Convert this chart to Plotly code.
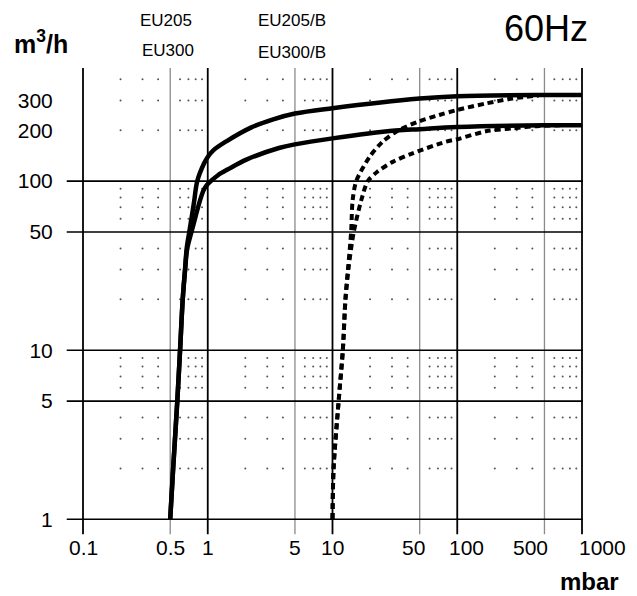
import math
import plotly.graph_objects as go

# ---------------- data ----------------
eu300_x = [0.5, 0.528, 0.57, 0.6, 0.63, 0.658, 0.678, 0.711, 0.744, 0.78, 0.824, 0.933, 1.0, 1.108, 1.41, 2.24, 3.35, 5, 10, 50, 100, 500, 1000]
eu300_y = [1, 2, 5, 10, 20, 30, 40, 50, 61.5, 77, 100, 127, 139, 152, 172, 208, 232, 251, 270, 308, 318, 323, 323]

eu205_x = [0.5, 0.528, 0.57, 0.6, 0.63, 0.658, 0.685, 0.74, 0.80, 0.867, 0.93, 1.0, 1.2, 1.5, 2.04, 3.72, 5, 10, 32, 50, 100, 500, 1000]
eu205_y = [1, 2, 5, 10, 20, 30, 40, 50, 62, 77, 89, 96, 108, 119, 134, 157, 165, 179, 199, 203, 209, 214, 214]

eu300b_x = [10, 10.2, 11.2, 12.1, 12.7, 13.3, 14.1, 14.5, 15.5, 19.8, 25.2, 32.4, 48, 71.8, 99, 170, 277, 450]
eu300b_y = [1, 2, 5, 10, 20, 30, 50, 77, 100, 139, 171, 196, 224, 246, 263, 288, 308, 321]

eu205b_x = [10, 10.2, 11.2, 12.1, 12.7, 13.4, 14.8, 17, 19.2, 23, 30.4, 43.8, 81, 100, 170, 277, 453, 700]
eu205b_y = [1, 2, 5, 10, 20, 30, 50, 77, 100, 114, 130, 146, 171, 177, 197, 205, 212, 214]

x_ticks = [0.1, 0.5, 1, 5, 10, 50, 100, 500, 1000]
x_tick_text = ["0.1", "0.5", "1", "5", "10", "50", "100", "500", "1000"]
x_tick_shift = [0, 0, 0, 0, 0, -6, 9, -14, 20]
y_ticks = [1, 5, 10, 50, 100, 200, 300]
y_tick_text = ["1", "5", "10", "50", "100", "200", "300"]

x_decades = [0.1, 1, 10, 100, 1000]
x_halves = [0.5, 5, 50, 500]
y_lines = [1, 5, 10, 50, 100]
minor_mult = [2, 3, 4, 6, 7, 8, 9]
x_minor = [m * d for d in [0.1, 1, 10, 100] for m in minor_mult]
y_minor = [m * d for d in [1, 10, 100] for m in minor_mult if m * d < 460]

FONT = "Liberation Sans, Arial, sans-serif"

fig = go.Figure()

# dotted minor grid (dots at the minor intersections)
dot_x = [xx for xx in x_minor for yy in y_minor]
dot_y = [yy for xx in x_minor for yy in y_minor]
fig.add_trace(go.Scatter(x=dot_x, y=dot_y, mode="markers",
                         marker=dict(size=2, color="#555555"),
                         hoverinfo="skip", showlegend=False))

line_solid = dict(color="black", width=4.5)
line_dash = dict(color="black", width=4, dash="6px,4px")

fig.add_trace(go.Scatter(x=eu205_x, y=eu205_y, mode="lines", name="EU205",
                         line=dict(**line_solid, shape="spline", smoothing=1.0)))
fig.add_trace(go.Scatter(x=eu300_x, y=eu300_y, mode="lines", name="EU300",
                         line=dict(**line_solid, shape="spline", smoothing=1.0)))
fig.add_trace(go.Scatter(x=eu205b_x, y=eu205b_y, mode="lines", name="EU205/B",
                         line=dict(**line_dash, shape="spline", smoothing=0.8)))
fig.add_trace(go.Scatter(x=eu300b_x, y=eu300b_y, mode="lines", name="EU300/B",
                         line=dict(**line_dash, shape="spline", smoothing=0.8)))

# grid lines as shapes
shapes = []
for v in x_halves:
    shapes.append(dict(type="line", xref="x", yref="paper", x0=v, x1=v, y0=-0.029, y1=1,
                       line=dict(color="#8a8a8a", width=1.3), layer="below"))
for v in x_decades:
    shapes.append(dict(type="line", xref="x", yref="paper", x0=v, x1=v, y0=-0.029, y1=1,
                       line=dict(color="black", width=1.8), layer="below"))
for v in y_lines:
    shapes.append(dict(type="line", xref="paper", yref="y", x0=-0.0305, x1=1, y0=v, y1=v,
                       line=dict(color="black", width=1.6), layer="below"))

annotations = []
for v, t, s in zip(x_ticks, x_tick_text, x_tick_shift):
    annotations.append(dict(x=math.log10(v), y=0, xref="x", yref="paper", text=t,
                            showarrow=False, xanchor="center", yanchor="top",
                            yshift=-13, xshift=s, font=dict(family=FONT, size=21, color="black")))

annotations += [
    dict(x=-0.082, y=1.058, xref="paper", yref="paper", text="<b>m<sup>3</sup>/h</b>",
         showarrow=False, xanchor="center", yanchor="middle",
         font=dict(family=FONT, size=25, color="black")),
    dict(x=0.168, y=1.104, xref="paper", yref="paper", text="EU205",
         showarrow=False, xanchor="center", yanchor="middle",
         font=dict(family=FONT, size=17, color="black")),
    dict(x=0.172, y=1.038, xref="paper", yref="paper", text="EU300",
         showarrow=False, xanchor="center", yanchor="middle",
         font=dict(family=FONT, size=17, color="black")),
    dict(x=0.42, y=1.104, xref="paper", yref="paper", text="EU205/B",
         showarrow=False, xanchor="center", yanchor="middle",
         font=dict(family=FONT, size=17, color="black")),
    dict(x=0.42, y=1.034, xref="paper", yref="paper", text="EU300/B",
         showarrow=False, xanchor="center", yanchor="middle",
         font=dict(family=FONT, size=17, color="black")),
    dict(x=0.926, y=1.088, xref="paper", yref="paper", text="60Hz",
         showarrow=False, xanchor="center", yanchor="middle",
         font=dict(family=FONT, size=36, color="black")),
    dict(x=1.012, y=-0.133, xref="paper", yref="paper", text="<b>mbar</b>",
         showarrow=False, xanchor="center", yanchor="middle",
         font=dict(family=FONT, size=24, color="black")),
]

fig.update_layout(
    width=637, height=596,
    margin=dict(l=82, r=54, t=68, b=75),
    paper_bgcolor="white", plot_bgcolor="white",
    showlegend=False,
    shapes=shapes,
    annotations=annotations,
    xaxis=dict(type="log", range=[-1.008, 3.008], showgrid=False, zeroline=False,
               showline=False, tickvals=x_ticks, showticklabels=False, ticks=""),
    yaxis=dict(type="log", range=[-0.01, 2.669], showgrid=False, zeroline=False,
               showline=False, tickvals=y_ticks, ticktext=y_tick_text,
               ticks="outside", ticklen=24, tickcolor="rgba(0,0,0,0)",
               tickfont=dict(family=FONT, size=21, color="black")),
)

fig.write_html("out.html", config={"displayModeBar": False},
               post_script="document.body.style.margin='0px';")
